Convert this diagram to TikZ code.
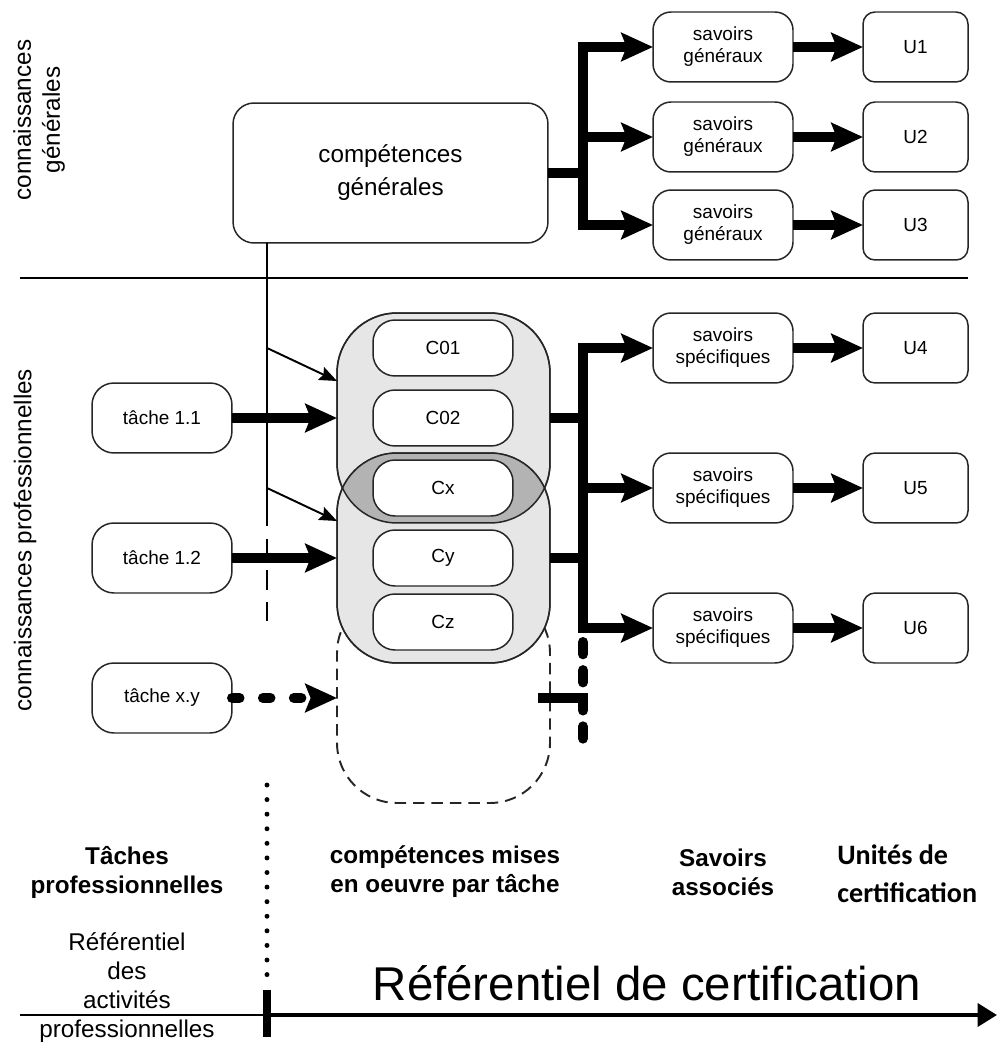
\documentclass[tikz,border=0pt]{standalone}
\usepackage{fontspec}
\setmainfont{Liberation Sans}
\newfontfamily\carlito{Carlito}
\usetikzlibrary{arrows.meta}
\definecolor{lightg}{HTML}{E6E6E6}
\definecolor{lensg}{HTML}{B3B3B3}
\tikzset{
  boxbase/.style={draw=black!85, line width=0.85pt, fill=white, align=center, inner sep=0pt, outer sep=0pt,
    font=\fontsize{10.8}{12.5}\selectfont},
  sbox/.style={boxbase, rounded corners=0.36cm, minimum width=2.8cm, minimum height=1.4cm},
  ubox/.style={boxbase, rounded corners=0.24cm, minimum width=2.1cm, minimum height=1.4cm},
  tbox/.style={boxbase, rounded corners=0.44cm, minimum width=2.8cm, minimum height=1.4cm},
  cbox/.style={boxbase, rounded corners=0.44cm, minimum width=2.8cm, minimum height=1.12cm},
  bigrect/.style={draw=black!85, line width=0.85pt, rounded corners=1.2cm, minimum width=4.26cm, minimum height=4.2cm, inner sep=0pt, outer sep=0pt},
  heavy/.style={line width=5.7pt},
  heavyarrow/.style={line width=5.7pt, -{Stealth[length=18pt,width=16pt,inset=3pt]}},
  thinline/.style={line width=1.1pt},
  thinarrow/.style={line width=1.1pt, -{Stealth[length=10pt,width=8pt,inset=1.5pt]}},
  bigtext/.style={font=\fontsize{13.8}{16.5}\selectfont, align=center, inner sep=0pt},
}
\begin{document}
\begin{tikzpicture}[x=0.02cm,y=-0.02cm]
\useasboundingbox (0,0) rectangle (997,1043);

% side labels
\node[bigtext, rotate=90] (lab1) at (39,120) {connaissances\\générales};
\node[bigtext, rotate=90] (lab2) at (25,540) {connaissances professionnelles};

% separator
\coordinate (sepL) at (20,278);
\coordinate (sepR) at (968,278);
\draw[thinline] (sepL) -- (sepR);

% top part
\node[boxbase, rounded corners=0.42cm, minimum width=6.3cm, minimum height=2.8cm,
  font=\fontsize{13.8}{18.7}\selectfont] (CG) at (390.5,173) {compétences\\générales};
\foreach \i/\y in {1/47,2/137,3/225}{
  \node[sbox] (SG\i) at (723,\y) {savoirs\\généraux};
  \node[ubox] (U\i) at (915.5,\y) {U\i};
  \coordinate (gj\i) at (583,\y);
}
\coordinate (gs) at (583,173);
\draw[heavy, line cap=rect] (gj1) -- (gj3);
\draw[heavy] (CG.east) -- (gs);
\foreach \i in {1,2,3}{
  \draw[heavyarrow] (gj\i) -- (SG\i);
  \draw[heavyarrow] (SG\i) -- (U\i);
}

% big rounded rectangles
\node[bigrect, line width=1.1pt, dash pattern=on 6.5pt off 4pt] (R3) at (443.5,698) {};
\node[bigrect, fill=lightg] (R1) at (443.5,418) {};
\node[bigrect, fill=lightg] (R2) at (443.5,558) {};
\begin{scope}
  \clip[rounded corners=1.2cm] (R1.north west) rectangle (R1.south east);
  \fill[lensg, rounded corners=1.2cm] (R2.north west) rectangle (R2.south east);
\end{scope}
\draw[draw=black!85, line width=0.85pt, rounded corners=1.2cm] (R1.north west) rectangle (R1.south east);
\draw[draw=black!85, line width=0.85pt, rounded corners=1.2cm] (R2.north west) rectangle (R2.south east);

\foreach \n/\y in {C01/348,C02/418,Cx/488,Cy/558,Cz/622}{
  \node[cbox] (\n) at (443,\y) {\n};
}

% tasks
\node[tbox] (T1) at (162,418) {tâche 1.1};
\node[tbox] (T2) at (162,558) {tâche 1.2};
\node[tbox] (T3) at (162,698) {tâche x.y};

% vertical line from compétences générales
\coordinate (v0) at (267,243);
\coordinate (v1) at (267,507);
\coordinate (v2) at (267,630);
\coordinate (b1) at (267,348);
\coordinate (b2) at (267,488);
\coordinate (a1) at (337,381);
\coordinate (a2) at (337,521);
\draw[thinline] (v0) -- (v1);
\draw[thinline, dash pattern=on 11pt off 7pt] (v1) -- (v2);
\draw[thinarrow] (b1) -- (a1);
\draw[thinarrow] (b2) -- (a2);

\draw[heavyarrow] (T1) -- (R1);
\draw[heavyarrow] (T2) -- (R2);
\draw[heavyarrow, line cap=round, dash pattern=on 4.3pt off 13.3pt] (T3.east) -- (R3.west);

% right side, professional
\foreach \i/\y in {4/348,5/488,6/628}{
  \node[sbox] (SP\i) at (723,\y) {savoirs\\spécifiques};
  \node[ubox] (U\i) at (915.5,\y) {U\i};
  \coordinate (pj\i) at (583,\y);
}
\coordinate (ps1) at (583,418);
\coordinate (ps2) at (583,558);
\coordinate (ps3) at (583,698);
\coordinate (pd0) at (583,642);
\coordinate (pd1) at (583,750);
\draw[heavy, line cap=rect] (pj4) -- (pj6);
\draw[heavy, line cap=round, dash pattern=on 7pt off 9pt] (pd0) -- (pd1);
\draw[heavy] (R1.east) -- (ps1);
\draw[heavy] (R2.east) -- (ps2);
\draw[heavy, line cap=rect] ([xshift=-4pt]R3.east) -- (ps3);
\foreach \i in {4,5,6}{
  \draw[heavyarrow] (pj\i) -- (SP\i);
  \draw[heavyarrow] (SP\i) -- (U\i);
}

% bottom
\coordinate (d0) at (267,785);
\coordinate (d1) at (267,978);
\draw[line width=2.8pt, line cap=round, dash pattern=on 0pt off 8.3pt] (d0) -- (d1);
\coordinate (k0) at (267,990);
\coordinate (k1) at (267,1037);
\draw[line width=4.5pt] (k0) -- (k1);
\coordinate (h0) at (20,1015);
\coordinate (h1) at (267,1015);
\coordinate (h2) at (997,1015);
\draw[thinline] (h0) -- (h1);
\draw[line width=2.2pt, -{Triangle[length=11pt,width=13pt]}] (h1) -- (h2);

\node[bigtext, font=\bfseries\fontsize{13.8}{16.5}\selectfont] (lt) at (127,872) {Tâches\\professionnelles};
\node[bigtext] (lr) at (127,988) {Référentiel\\des\\activités\\professionnelles};
\node[bigtext, font=\bfseries\fontsize{13.8}{16.5}\selectfont] (lc) at (445,872) {compétences mises\\en oeuvre par tâche};
\node[bigtext, font=\bfseries\fontsize{13.8}{16.5}\selectfont] (ls) at (723,872) {Savoirs\\associés};
\node[align=left, anchor=west, inner sep=0pt, font=\carlito\bfseries\fontsize{16}{21.5}\selectfont] (lu) at (837,874) {Unités de\\certification};
\node[inner sep=0pt, font=\fontsize{27}{32}\selectfont] (lref) at (647,983) {Référentiel de certification};
\end{tikzpicture}
\end{document}
